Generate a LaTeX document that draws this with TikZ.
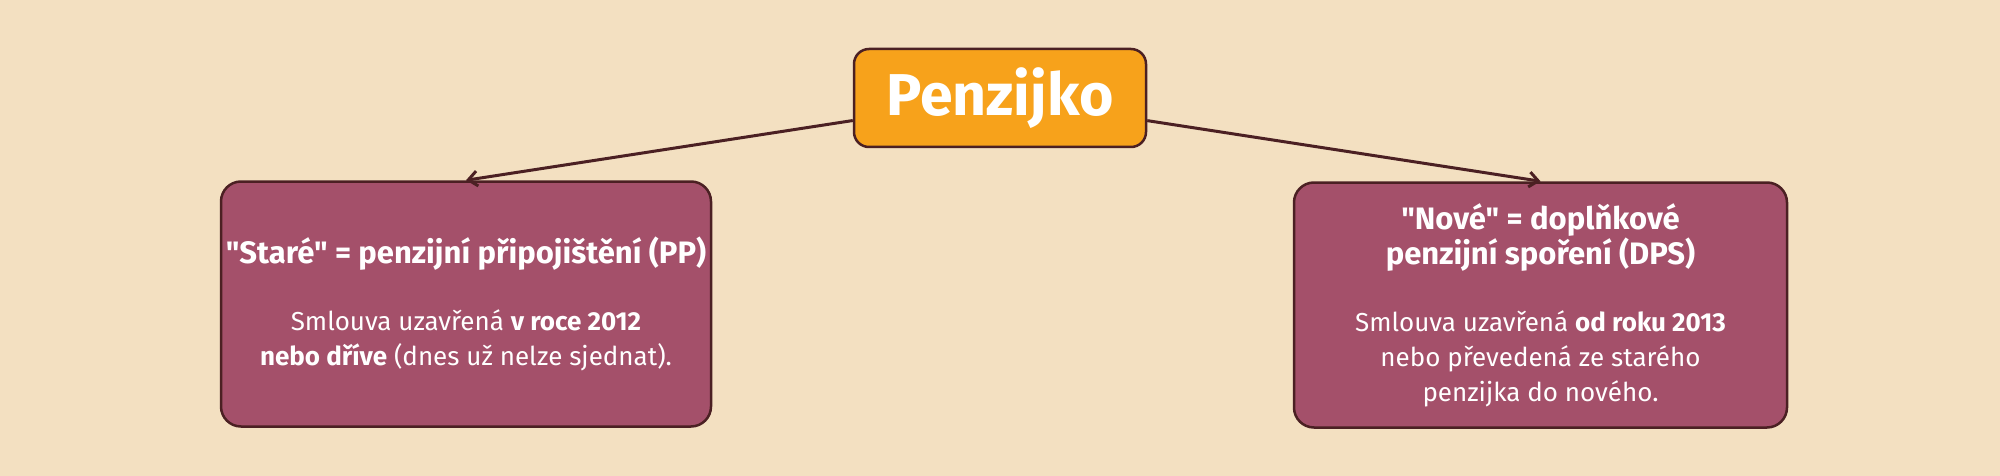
\documentclass[tikz,border=0pt]{standalone}
\usepackage{fontspec}
\setmainfont{Fira Sans}[Ligatures=TeXOff]
\usetikzlibrary{arrows.meta}
\definecolor{bg}{HTML}{F3E0C1}
\definecolor{orng}{HTML}{F7A21B}
\definecolor{plum}{HTML}{A4506A}
\definecolor{brwn}{HTML}{4B2023}
\newcommand{\ttl}[1]{{\fontsize{31}{35}\selectfont\bfseries #1}}

\begin{document}
\begin{tikzpicture}[x=1pt,y=-1pt,
	root/.style={draw=brwn,line width=2.5pt,fill=orng,rounded corners=15pt,minimum width=292pt,minimum height=98pt,text=white,font=\fontsize{59}{70}\selectfont\bfseries},
	leaf/.style={draw=brwn,line width=2.5pt,fill=plum,rounded corners=20pt,minimum height=245pt,text=white,align=center,font=\fontsize{26}{35}\selectfont},
	link/.style={brwn,line width=3pt,-{Straight Barb[length=9pt,width=15pt]}}]
	\fill[bg] (0,0) rectangle (2000,476);
	\useasboundingbox (0,0) rectangle (2000,476);
	\node[root] (penz) at (1000,98) {Penzijko};
	\node[leaf,minimum width=490pt] (stare) at (466,304) {\ttl{"Staré" = penzijní připojištění (PP)}\\[32pt]
		Smlouva uzavřená \textbf{v roce 2012}\\
		\textbf{nebo dříve} (dnes už nelze sjednat).};
	\node[leaf,minimum width=493pt] (nove) at (1540.5,305) {\ttl{"Nové" = doplňkové}\\
		\ttl{penzijní spoření (DPS)}\\[32pt]
		Smlouva uzavřená \textbf{od roku 2013}\\
		nebo převedená ze starého\\
		penzijka do nového.};
	\draw[link] (penz) -- (stare.north);
	\draw[link] (penz) -- (nove.north);
\end{tikzpicture}
\end{document}
